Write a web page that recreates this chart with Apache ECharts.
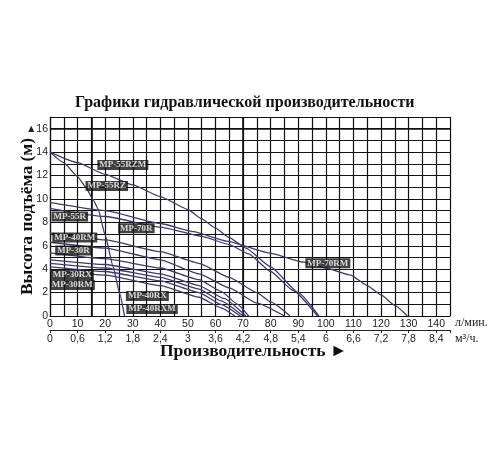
<!DOCTYPE html>
<html>
<head>
<meta charset="utf-8">
<script src="https://cdn.jsdelivr.net/npm/echarts@6/dist/echarts.min.js"></script>
<style>
html, body { margin: 0; padding: 0; background: #fff; }
#chart { width: 500px; height: 450px; }
</style>
</head>
<body>
<div id="chart"></div>
<script>
// flow in l/min, head in m
var mp55rzm = [[0, 14], [10, 13.1], [20, 12.1], [30, 11.2], [40, 10.2], [50, 9.1], [55, 8.3], [60, 7.5], [65, 6.7], [71, 5.8], [80, 4.2], [90, 2.0], [97.5, 0]];
var mp55rz = [[0, 14], [5, 13.1], [10, 11.9], [13, 11.0], [15.7, 9.9], [17.5, 9.1], [20, 6.9], [22.9, 4.2], [25.3, 1.9], [27, 0]];
var mp70rm = [[0, 9.7], [20, 9.0], [40, 7.9], [52, 7.2], [64, 6.4], [80, 5.35], [92, 4.6], [100, 4.1], [109, 3.5], [115, 2.6], [120, 1.8], [125, 0.9], [129.5, 0]];
var mp70r = [[0, 9.2], [20, 8.5], [40, 7.6], [55, 6.8], [65, 6.1], [72, 5.3], [80, 3.8], [88, 2.2], [97, 0]];
var mp55r = [[0, 7.1], [20, 6.5], [40, 5.5], [54, 4.5], [65, 3.3], [75, 2.0], [80, 1.2], [87, 0]];
var mp40rm = [[0, 6.3], [20, 5.8], [40, 4.8], [54, 3.6], [65, 2.4], [75, 1.1], [85, 0]];
var mp30r = [[0, 5.4], [20, 4.9], [40, 4.1], [54, 3.1], [62, 2.1], [68, 1.0], [72, 0]];
var mp30rx = [[0, 4.8], [20, 4.4], [40, 3.6], [54, 2.6], [63, 1.5], [71, 0]];
var mp30rm = [[0, 4.5], [20, 4.1], [40, 3.3], [54, 2.3], [62, 1.3], [70, 0]];
var mp40rx = [[0, 4.2], [20, 3.8], [40, 3.0], [54, 2.0], [62, 1.0], [69, 0]];
var mp40rxm = [[0, 3.9], [20, 3.5], [40, 2.6], [54, 1.6], [62, 0.7], [67, 0]];

var curveNames = ["MP-55RZM", "MP-55RZ", "MP-70RM", "MP-70R", "MP-55R", "MP-40RM", "MP-30R", "MP-30RX", "MP-30RM", "MP-40RX", "MP-40RXM"];
var curveData = [mp55rzm, mp55rz, mp70rm, mp70r, mp55r, mp40rm, mp30r, mp30rx, mp30rm, mp40rx, mp40rxm];

// where the curve tags sit (l/min, m)
var tagNames = ["MP-55RZM", "MP-55RZ", "MP-55R", "MP-70R", "MP-40RM", "MP-30R", "MP-30RX", "MP-30RM", "MP-40RX", "MP-40RXM", "MP-70RM"];
var tagSpots = [[26.4, 12.9], [20.6, 11.1], [7.2, 8.5], [31.3, 7.5], [9.0, 6.7], [8.5, 5.6], [8.1, 3.5], [8.1, 2.65], [35.3, 1.7], [37, 0.6], [100.7, 4.5]];

var m3hLabels = ["0", "0,6", "1,2", "1,8", "2,4", "3", "3,6", "4,2", "4,8", "5,4", "6", "6,6", "7,2", "7,8", "8,4"];

var gridLine = {color: "#111", width: 1.2};
var tickFont = {color: "#222", fontSize: 10.5, fontFamily: "Liberation Sans"};

var series = curveData.map(function (d, i) {
    return {
        name: curveNames[i],
        type: "line",
        data: d,
        symbol: "none",
        smooth: 0.15,
        smoothMonotone: "x",
        lineStyle: {color: "#3f3a6b", width: 1.3},
        z: 3
    };
});

series[0].markLine = {
    silent: true,
    symbol: "none",
    label: {show: false},
    lineStyle: {color: "#111", width: 1.6, type: "solid"},
    data: [{xAxis: 15}, {xAxis: 70}, {yAxis: 16}],
    z: 2
};

series.push({
    name: "tags",
    type: "scatter",
    symbolSize: 1,
    itemStyle: {color: "rgba(0,0,0,0)"},
    data: tagSpots.map(function (p, i) {
        return {value: p, name: tagNames[i]};
    }),
    label: {
        show: true,
        position: "inside",
        formatter: "{b}",
        color: "#fff",
        backgroundColor: "#111",
        padding: [1, 2, 0, 2],
        fontFamily: "Liberation Serif",
        fontWeight: "bold",
        fontSize: 9
    },
    labelLayout: {hideOverlap: false},
    z: 5
});

var option = {
    backgroundColor: "#fff",
    animation: false,
    title: {
        text: "Графики гидравлической производительности",
        left: 70,
        top: 90,
        textStyle: {fontFamily: "Liberation Serif", fontWeight: "bold", fontSize: 16, color: "#111"}
    },
    grid: {left: 50, right: 50, top: 117, bottom: 134, containLabel: false, outerBoundsMode: "none"},
    xAxis: [
        {
            type: "value",
            min: 0,
            max: 145,
            interval: 5,
            axisLine: {show: true, lineStyle: gridLine},
            axisTick: {show: false},
            splitLine: {show: true, lineStyle: gridLine},
            axisLabel: {
                margin: 3,
                color: tickFont.color,
                fontSize: tickFont.fontSize,
                fontFamily: tickFont.fontFamily,
                formatter: function (v) {
                    return (v % 10 === 0 && v <= 140) ? String(v) : "";
                }
            },
            name: "л/мин.",
            nameLocation: "end",
            nameGap: 5,
            nameTextStyle: {fontFamily: "Liberation Serif", fontSize: 12, color: "#222", verticalAlign: "top", padding: [1, 0, 0, 0]}
        },
        {
            type: "value",
            min: 0,
            max: 145,
            interval: 10,
            position: "bottom",
            offset: 14,
            axisLine: {show: true, onZero: false, lineStyle: {color: "#222", width: 1}},
            axisTick: {show: true, length: 3, lineStyle: {color: "#222"}},
            splitLine: {show: false},
            axisLabel: {
                margin: 4,
                color: tickFont.color,
                fontSize: tickFont.fontSize,
                fontFamily: tickFont.fontFamily,
                formatter: function (v) {
                    return (v % 10 === 0 && v <= 140) ? m3hLabels[v / 10] : "";
                }
            },
            name: "м³/ч.",
            nameLocation: "end",
            nameGap: 5,
            nameTextStyle: {fontFamily: "Liberation Serif", fontSize: 12, color: "#222", verticalAlign: "top", padding: [3, 0, 0, 0]}
        }
    ],
    yAxis: {
        type: "value",
        min: 0,
        max: 17,
        interval: 1,
        axisLine: {show: true, lineStyle: gridLine},
        axisTick: {show: false},
        splitLine: {show: true, lineStyle: gridLine},
        axisLabel: {
            margin: 2,
            color: tickFont.color,
            fontSize: tickFont.fontSize,
            fontFamily: tickFont.fontFamily,
            formatter: function (v) {
                if (v % 2 !== 0 || v > 16) return "";
                return v === 16 ? "▲16" : String(v);
            }
        },
        name: "Высота подъёма (м)",
        nameLocation: "middle",
        nameRotate: 90,
        nameGap: 14,
        nameMoveOverlap: false,
        nameTextStyle: {fontFamily: "Liberation Serif", fontWeight: "bold", fontSize: 17.5, color: "#111"}
    },
    graphic: [{
        type: "text",
        left: 160,
        top: 342,
        style: {
            text: "Производительность ►",
            fill: "#111",
            font: "bold 17.5px 'Liberation Serif'"
        }
    }],
    series: series
};

var chart = echarts.init(document.getElementById("chart"));
chart.setOption(option);
</script>
</body>
</html>
